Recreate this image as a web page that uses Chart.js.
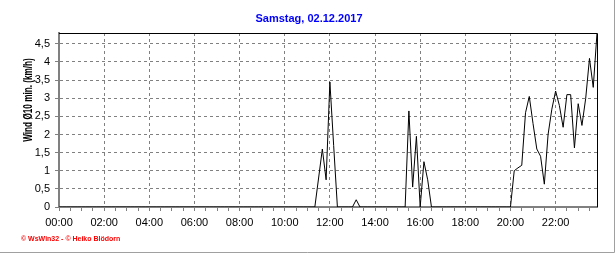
<!DOCTYPE html>
<html>
<head>
<meta charset="utf-8">
<script src="https://cdn.jsdelivr.net/npm/chart.js@4"></script>
<style>
  body { margin: 0; background: #fff; }
  #wrap { position: relative; width: 616px; height: 253px; }
</style>
</head>
<body>
<div id="wrap"><canvas id="grafik" width="616" height="253"></canvas></div>
<script>
const titel = 'Samstag, 02.12.2017';
const achsenTitel = 'Wind Ø10 min. (km/h)';
const fusszeile = '© WsWin32 - © Heiko Blödorn';

// 10-Minuten-Werte, eine Zeile = 2 Stunden (00:00 ... 23:50)
const wind = [
  0, 0, 0, 0, 0, 0, 0, 0, 0, 0, 0, 0,
  0, 0, 0, 0, 0, 0, 0, 0, 0, 0, 0, 0,
  0, 0, 0, 0, 0, 0, 0, 0, 0, 0, 0, 0,
  0, 0, 0, 0, 0, 0, 0, 0, 0, 0, 0, 0,
  0, 0, 0, 0, 0, 0, 0, 0, 0, 0, 0, 0,
  0, 0, 0, 0, 0, 0, 0, 0, 0, 0.8, 1.6, 0.75,
  3.45, 1.7, 0, 0, 0, 0, 0, 0.2, 0, 0, 0, 0,
  0, 0, 0, 0, 0, 0, 0, 0, 0, 2.65, 0.55, 1.95,
  0, 1.25, 0.75, 0, 0, 0, 0, 0, 0, 0, 0, 0,
  0, 0, 0, 0, 0, 0, 0, 0, 0, 0, 0, 0,
  0, 1.0, 1.08, 1.15, 2.6, 3.05, 2.3, 1.6, 1.4, 0.63, 2.0, 2.7,
  3.2, 2.8, 2.2, 3.1, 3.1, 1.63, 2.85, 2.25, 3.0, 4.1, 3.3, 4.8
];
const minuten = wind.map((_, i) => i * 10);
const yTicks = [0, 0.5, 1, 1.5, 2, 2.5, 3, 3.5, 4, 4.5];

function uhrzeit(m) {
  const h = Math.floor(m / 60), mm = m % 60;
  return String(h).padStart(2, '0') + ':' + String(mm).padStart(2, '0');
}

const texte = {
  id: 'texte',
  afterDraw(chart) {
    const ctx = chart.ctx;
    const a = chart.chartArea;
    ctx.save();
    // Rahmen oben und rechts
    ctx.strokeStyle = '#000';
    ctx.lineWidth = 1;
    ctx.beginPath();
    ctx.moveTo(a.left, a.top + 0.5);
    ctx.lineTo(a.right + 0.5, a.top + 0.5);
    ctx.lineTo(a.right + 0.5, a.bottom);
    ctx.stroke();
    // grauer Bildrahmen
    ctx.strokeStyle = '#a0a0a0';
    ctx.beginPath();
    ctx.moveTo(614.5, 0);
    ctx.lineTo(614.5, 252.5);
    ctx.lineTo(0, 252.5);
    ctx.stroke();
    // Titel
    ctx.fillStyle = '#0000ff';
    ctx.font = 'bold 11px "Liberation Sans", Arial, sans-serif';
    ctx.textAlign = 'center';
    ctx.textBaseline = 'middle';
    ctx.fillText(titel, 309, 19);
    // Achsentitel
    ctx.fillStyle = '#000';
    ctx.font = 'bold 13px "Liberation Sans", Arial, sans-serif';
    ctx.translate(28, 100);
    ctx.rotate(-Math.PI / 2);
    ctx.scale(0.63, 1);
    ctx.fillText(achsenTitel, 0, 0);
    ctx.restore();
    // Fusszeile
    ctx.save();
    ctx.fillStyle = '#ff0000';
    ctx.font = 'bold 7px "Liberation Sans", Arial, sans-serif';
    ctx.textBaseline = 'middle';
    ctx.fillText(fusszeile, 21, 239);
    ctx.restore();
  }
};

new Chart(document.getElementById('grafik'), {
  type: 'line',
  data: {
    datasets: [{
      data: minuten.map((m, i) => ({ x: m, y: wind[i] })),
      borderColor: '#000',
      borderWidth: 1,
      pointRadius: 0,
      tension: 0,
      fill: false
    }]
  },
  options: {
    responsive: false,
    animation: false,
    layout: { padding: { left: 0, top: 33, right: 19, bottom: 0 } },
    plugins: {
      legend: { display: false },
      tooltip: { enabled: false },
      title: { display: false }
    },
    scales: {
      x: {
        type: 'linear',
        min: 0,
        max: 1430,
        afterFit: s => { s.height = 46; },
        afterBuildTicks: s => {
          s.ticks = [];
          for (let m = 0; m <= 1430; m += 30) s.ticks.push({ value: m });
        },
        ticks: {
          autoSkip: false,
          maxRotation: 0,
          padding: 5,
          color: '#000',
          font: { family: '"Liberation Sans", Arial, sans-serif', size: 11 },
          callback: v => (v % 120 === 0 ? uhrzeit(v) : '')
        },
        grid: {
          color: c => (c.tick && c.tick.value % 120 === 0 && c.tick.value > 0 ? '#808080' : 'rgba(0,0,0,0)'),
          tickColor: '#808080',
          tickLength: 4,
          lineWidth: 1
        },
        border: { color: '#808080', width: 2, dash: [3, 3] }
      },
      y: {
        min: 0,
        max: 4.8,
        afterFit: s => { s.width = 59; },
        afterBuildTicks: s => { s.ticks = yTicks.map(v => ({ value: v })); },
        ticks: {
          padding: 5,
          color: '#000',
          font: { family: '"Liberation Sans", Arial, sans-serif', size: 11 },
          callback: v => String(v).replace('.', ',')
        },
        grid: {
          color: c => (c.tick && c.tick.value > 0 ? '#808080' : 'rgba(0,0,0,0)'),
          tickColor: '#808080',
          tickLength: 4,
          lineWidth: 1
        },
        border: { color: '#808080', width: 2, dash: [3, 3] }
      }
    }
  },
  plugins: [texte]
});
</script>
</body>
</html>
